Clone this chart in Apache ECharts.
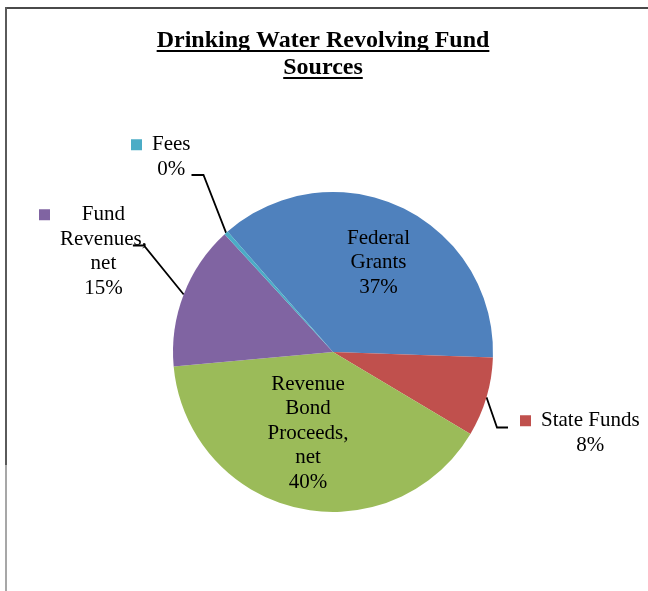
<!DOCTYPE html>
<html>
<head>
<meta charset="utf-8">
<script src="https://cdn.jsdelivr.net/npm/echarts@6/dist/echarts.min.js"></script>
<style>
html,body{margin:0;padding:0;background:#fff;}
#chart{width:648px;height:591px;}
</style>
</head>
<body>
<div id="chart"></div>
<script>
// ---- data ----
const titleLines = ['Drinking Water Revolving Fund', 'Sources'];
const categories = ['Federal Grants', 'State Funds', 'Revenue Bond Proceeds, net', 'Fund Revenues, net', 'Fees'];
const labelTextLines = [['Federal', 'Grants'], ['State Funds'], ['Revenue', 'Bond', 'Proceeds,', 'net'], ['Fund', 'Revenues,', 'net'], ['Fees']];
const values = [37.0, 8.0, 40.0, 14.6, 0.4];
const colors = ['#4F81BD', '#C0504D', '#9BBB59', '#8064A2', '#4BACC6'];

// ---- layout / style ----
const FONT = '"Liberation Serif", "Times New Roman", serif';
const LABEL_SIZE = 21;
const LINE_H = 24.5;
// label block anchor positions (layout only)
const labelPlacement = [
  { x: 378.5, y: 262.5, align: 'center', inside: true },
  { x: 520, y: 433, align: 'left', leader: 'leftSide' },
  { x: 308, y: 433, align: 'center', inside: true },
  { x: 39, y: 251.5, align: 'left', leader: 'underText' },
  { x: 131, y: 157, align: 'left', leader: 'rightSide' }
];

const rich = {
  g: { width: 10, height: 11, align: 'left', lineHeight: LINE_H },
  nb: { width: 11, height: 11, align: 'left', lineHeight: LINE_H },
  t: { align: 'center', fontSize: LABEL_SIZE, fontFamily: FONT, color: '#000', lineHeight: LINE_H }
};
colors.forEach(function (c, i) {
  rich['sq' + i] = { width: 11, height: 11, backgroundColor: c, align: 'left', lineHeight: LINE_H };
});

const seriesData = categories.map(function (name, i) {
  const pl = labelPlacement[i];
  return {
    name: name,
    value: values[i],
    itemStyle: { color: colors[i] },
    label: {
      position: pl.inside ? 'inside' : 'outside',
      formatter: function (p) {
        const lines = labelTextLines[p.dataIndex].concat([Math.round(p.percent) + '%']);
        if (pl.inside) return lines.join('\n');
        return lines.map(function (l, k) {
          return (k === 0 ? '{sq' + p.dataIndex + '|}' : '{nb|}') + '{g|}' + '{t|' + l + '}';
        }).join('\n');
      }
    },
    labelLine: { show: !pl.inside }
  };
});

const chart = echarts.init(document.getElementById('chart'), null, { renderer: 'canvas' });

const mctx = document.createElement('canvas').getContext('2d');
mctx.font = 'bold 24px ' + FONT;

const titleY = [40.5, 67.5];
const graphics = [];
titleLines.forEach(function (line, i) {
  const w = mctx.measureText(line).width;
  graphics.push({
    type: 'text', x: 323, y: titleY[i],
    style: { text: line, fontSize: 24, fontWeight: 'bold', fontFamily: FONT, fill: '#000', align: 'center', verticalAlign: 'middle' }
  });
  graphics.push({
    type: 'rect', shape: { x: 323 - w / 2, y: titleY[i] + 9.5, width: w, height: 2 },
    style: { fill: '#000' }
  });
});
// chart area frame
graphics.push({ type: 'line', shape: { x1: 5, y1: 8, x2: 648, y2: 8 }, style: { stroke: '#4a4a4a', lineWidth: 2 } });
graphics.push({ type: 'line', shape: { x1: 6, y1: 7, x2: 6, y2: 465 }, style: { stroke: '#5a5a5a', lineWidth: 2 } });
graphics.push({ type: 'line', shape: { x1: 6, y1: 465, x2: 6, y2: 591 }, style: { stroke: '#8a8a8a', lineWidth: 1.5 } });

chart.setOption({
  animation: false,
  backgroundColor: '#fff',
  graphic: { elements: graphics },
  series: [{
    type: 'pie',
    center: [333, 352],
    radius: 160,
    startAngle: 131.2,
    clockwise: true,
    avoidLabelOverlap: false,
    emphasis: { disabled: true },
    itemStyle: { borderWidth: 0 },
    label: {
      show: true,
      color: '#000',
      fontSize: LABEL_SIZE,
      fontFamily: FONT,
      lineHeight: LINE_H,
      rich: rich
    },
    labelLine: {
      length: 20, length2: 12, smooth: false,
      lineStyle: { color: '#000', width: 1.8 }
    },
    labelLayout: function (p) {
      const pl = labelPlacement[p.dataIndex];
      const out = { x: pl.x, y: pl.y, align: pl.align, verticalAlign: 'middle' };
      if (pl.leader && p.labelLinePoints && p.labelLinePoints.length) {
        const w = p.labelRect.width, h = p.labelRect.height;
        const left = pl.x, top = pl.y - h / 2, right = left + w, bottom = top + h;
        const start = p.labelLinePoints[0];
        let elbow, end;
        if (pl.leader === 'leftSide') {
          end = [left - 12, top + 19]; elbow = [left - 23, top + 19];
        } else if (pl.leader === 'underText') {
          end = [right - 14, top + 43]; elbow = [right - 3, top + 43];
        } else {
          end = [right + 1, bottom - 6.5]; elbow = [right + 13, bottom - 6.5];
        }
        out.labelLinePoints = [start, elbow, end];
      }
      return out;
    },
    data: seriesData
  }]
});
</script>
</body>
</html>
